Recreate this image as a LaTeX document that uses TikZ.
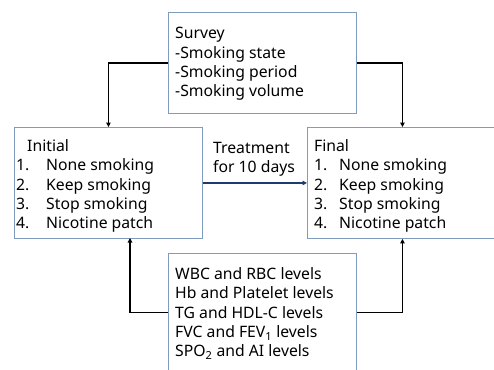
\documentclass[tikz,border=0pt]{standalone}
\usepackage{fontspec}
\setmainfont{Noto Sans}
\usetikzlibrary{arrows.meta}
\definecolor{boxline}{HTML}{7F9CC0}
\definecolor{navyarrow}{HTML}{1F3A6E}
\tikzset{
  box/.style={draw=boxline, line width=0.9bp, inner sep=0, minimum width=#1, anchor=north west},
  txt/.style={inner sep=0, anchor=north west, align=left, font=\fontsize{15.8}{19.5}\selectfont},
  conn/.style={draw=black, line width=1.8bp, -{Triangle[length=4.5bp,width=4.5bp]}},
}
\begin{document}
\begin{tikzpicture}[x=1bp,y=-1bp]
\useasboundingbox (0,0) rectangle (494,369);
\node[box=188bp, minimum height=101bp] (survey) at (168,12) {};
\node[box=188bp, minimum height=111bp] (initial) at (14,127) {};
\node[box=190bp, minimum height=111bp] (final) at (307,127) {};
\node[box=188bp, minimum height=118bp] (meas) at (168,253) {};

\node[txt] (surveytxt) at (175,27) {Survey\\-Smoking state\\-Smoking period\\-Smoking volume};
\node[txt] (initialtxt) at (16,139) {\makebox[11bp][l]{}Initial\\
\makebox[30bp][l]{1.}None smoking\\
\makebox[30bp][l]{2.}Keep smoking\\
\makebox[30bp][l]{3.}Stop smoking\\
\makebox[30bp][l]{4.}Nicotine patch};
\node[txt] (finaltxt) at (314,139) {Final\\
\makebox[25bp][l]{1.}None smoking\\
\makebox[25bp][l]{2.}Keep smoking\\
\makebox[25bp][l]{3.}Stop smoking\\
\makebox[25bp][l]{4.}Nicotine patch};
\node[txt] (meastxt) at (175,267) {WBC and RBC levels\\Hb and Platelet levels\\TG and HDL-C levels\\FVC and FEV\textsubscript{1} levels\\SPO\textsubscript{2} and AI levels};
\node[txt] (treat) at (213,142) {Treatment\\for 10 days};

\coordinate (mleft) at (130,238);
\draw[conn] (survey.west) -| (initial.north);
\draw[conn] (survey.east) -| (final.north);
\draw[conn] (meas.west) -| (mleft);
\draw[conn] (meas.east) -| (final.south);
\draw[draw=navyarrow, line width=1.4bp, -{Triangle[length=4.5bp,width=4.5bp]}] (initial.east) -- (final.west);
\end{tikzpicture}
\end{document}
